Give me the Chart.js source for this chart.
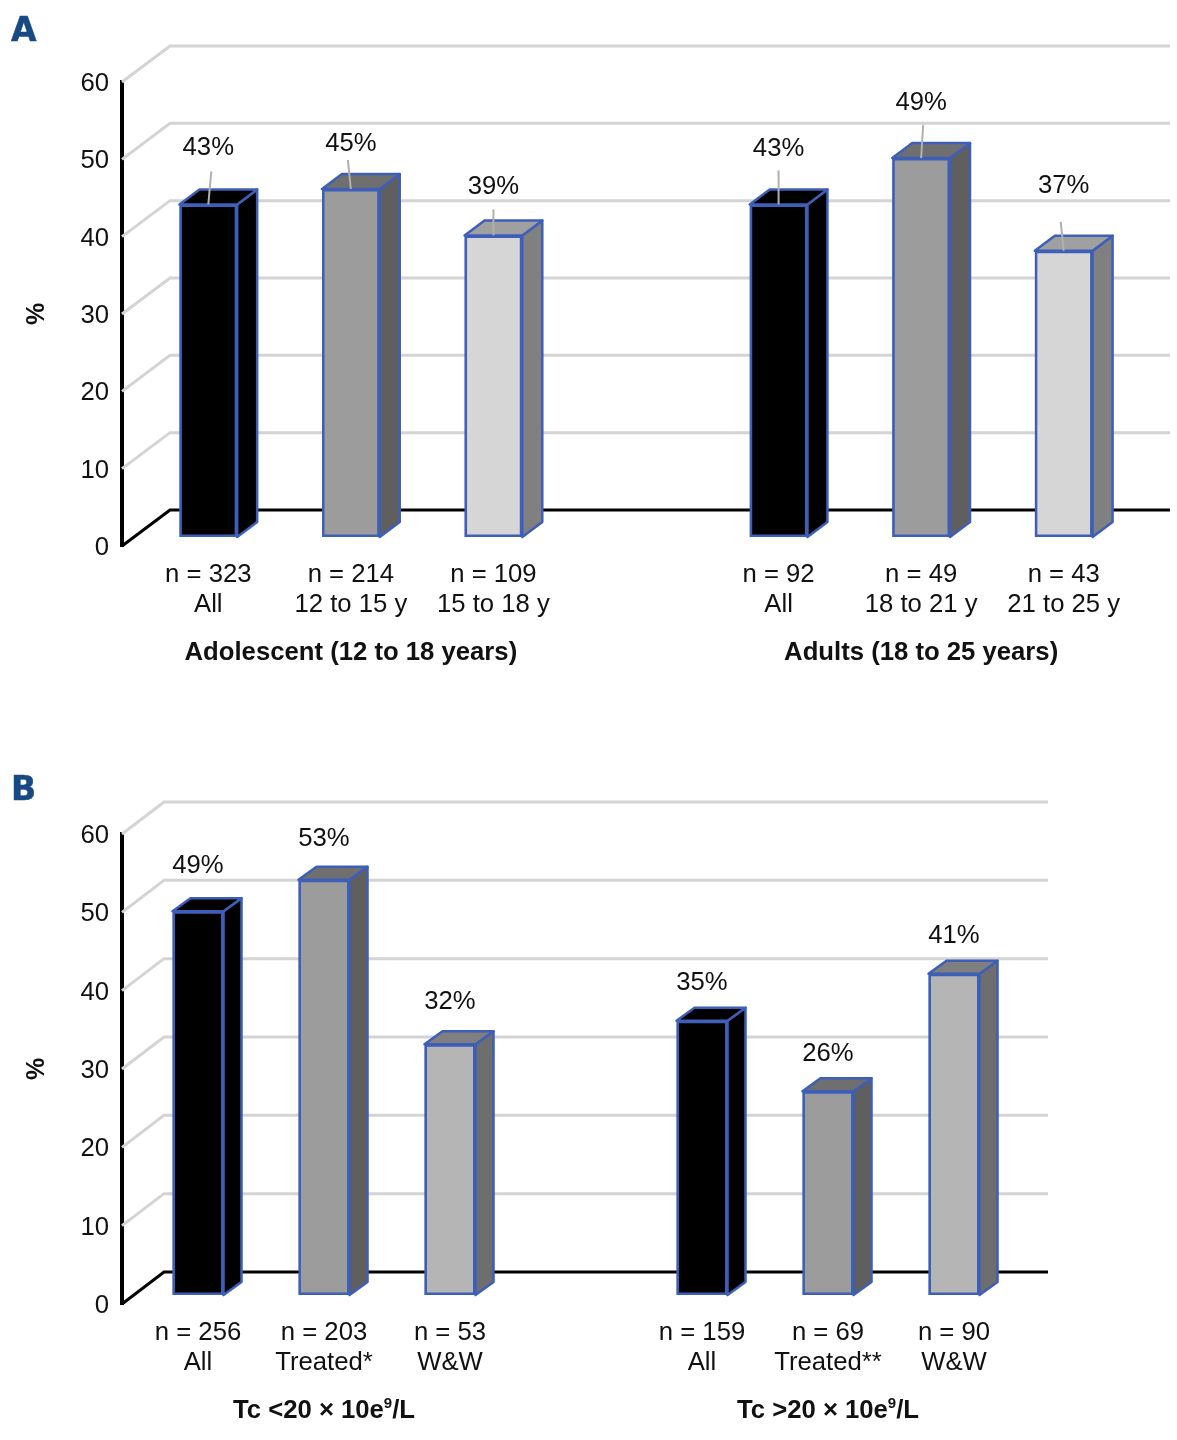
<!DOCTYPE html>
<html>
<head>
<meta charset="utf-8">
<script src="https://cdn.jsdelivr.net/npm/chart.js@4"></script>
<style>
  body { margin: 0; background: #fff; }
  #page { position: relative; width: 1177px; height: 1440px; overflow: hidden; }
  canvas { position: absolute; left: 0; }
  .panel { position: absolute; left: 11px; font: bold 33px "DejaVu Sans", sans-serif; color: #174a84; -webkit-text-stroke: 0.5px #174a84; }
</style>
</head>
<body>
<div id="page">
  <canvas id="chartA" width="1177" height="720" style="top:0"></canvas>
  <canvas id="chartB" width="1177" height="720" style="top:720px"></canvas>
  <div class="panel" style="top:10px">A</div>
  <div class="panel" style="top:769px">B</div>
</div>
<script>
// Panel A data (the empty slot is the gap between the two groups)
const categoriesA = [['n = 323', 'All'], ['n = 214', '12 to 15 y'], ['n = 109', '15 to 18 y'], '',
                     ['n = 92', 'All'], ['n = 49', '18 to 21 y'], ['n = 43', '21 to 25 y']];
const valuesA = [43, 45, 39, null, 43, 49, 37];
const groupsA = ['Adolescent (12 to 18 years)', 'Adults (18 to 25 years)'];

// Panel B data
const categoriesB = [['n = 256', 'All'], ['n = 203', 'Treated*'], ['n = 53', 'W&W'], '',
                     ['n = 159', 'All'], ['n = 69', 'Treated**'], ['n = 90', 'W&W']];
const valuesB = [49, 53, 32, null, 35, 26, 41];
const groupsB = ['Tc <20 × 10e⁹/L', 'Tc >20 × 10e⁹/L'];

const yMax = 60;
const yStep = 10;

const FONT = '"Liberation Sans", Arial, sans-serif';
const TEXT = '#111111';
const EDGE = '#3d5fb8';
const TEXT_SIZE = 25.7;

// face colours: front, top, side
const BLACK = ['#000000', '#000000', '#000000'];
const MID = ['#9c9c9c', '#6f6f6f', '#5f5f5f'];
const LIGHT_A = ['#d6d6d6', '#a0a0a0', '#808080'];
const LIGHT_B = ['#b5b5b5', '#7f7f7f', '#6e6e6e'];

function poly(ctx, pts, fill) {
  ctx.beginPath();
  pts.forEach((p, i) => i ? ctx.lineTo(p[0], p[1]) : ctx.moveTo(p[0], p[1]));
  ctx.closePath();
  ctx.fillStyle = fill;
  ctx.fill();
  ctx.lineWidth = 2.5;
  ctx.strokeStyle = EDGE;
  ctx.lineJoin = 'round';
  ctx.stroke();
}

// Centred caption; the ⁹ is set as a raised small digit
function drawCaption(ctx, text, cx, y) {
  const parts = text.split('⁹');
  ctx.font = 'bold ' + TEXT_SIZE + 'px ' + FONT;
  if (parts.length === 1) {
    ctx.fillText(text, cx, y);
    return;
  }
  const w0 = ctx.measureText(parts[0]).width, w2 = ctx.measureText(parts[1]).width;
  ctx.font = 'bold 15px ' + FONT;
  const w1 = ctx.measureText('9').width;
  const left = cx - (w0 + w1 + w2) / 2;
  ctx.textAlign = 'left';
  ctx.fillText('9', left + w0, y - 7);
  ctx.font = 'bold ' + TEXT_SIZE + 'px ' + FONT;
  ctx.fillText(parts[0], left, y);
  ctx.fillText(parts[1], left + w0 + w1, y);
  ctx.textAlign = 'center';
}

// Fake 3D: back wall grid, shifted bars with top and side faces, value labels
const fake3d = {
  id: 'fake3d',
  beforeDatasetsDraw(chart, args, o) {
    const ctx = chart.ctx, y = chart.scales.y, left = chart.chartArea.left;
    ctx.save();
    y.ticks.forEach(t => {
      const py = y.getPixelForValue(t.value);
      ctx.beginPath();
      ctx.moveTo(left, py);
      ctx.lineTo(left + o.wallX, py - o.wallY);
      ctx.lineTo(o.wallEnd, py - o.wallY);
      ctx.lineWidth = 3;
      ctx.strokeStyle = t.value === 0 ? '#000' : '#d4d4d4';
      ctx.stroke();
    });
    ctx.restore();
  },
  beforeDatasetDraw(chart, args, o) {
    const ctx = chart.ctx;
    ctx.save();
    ctx.translate(o.shiftX, -o.shiftY);
    args.meta.data.forEach((bar, i) => {
      if (chart.data.datasets[0].data[i] == null) return;
      const r = bar.x + bar.width / 2, l = bar.x - bar.width / 2;
      const face = o.faces[i];
      poly(ctx, [[r, bar.y], [r + o.depthX, bar.y - o.depthY], [r + o.depthX, bar.base - o.depthY], [r, bar.base]], face[2]);
      poly(ctx, [[l, bar.y], [l + o.depthX, bar.y - o.depthY], [r + o.depthX, bar.y - o.depthY], [r, bar.y]], face[1]);
      // solid backing so the black baseline does not bleed through the bar's soft edge
      ctx.fillStyle = EDGE;
      ctx.fillRect(l, bar.y, bar.width, bar.base - bar.y);
    });
  },
  afterDatasetDraw(chart) {
    chart.ctx.restore();
  },
  afterDatasetsDraw(chart, args, o) {
    const ctx = chart.ctx, meta = chart.getDatasetMeta(0);
    const values = chart.data.datasets[0].data;
    ctx.save();
    ctx.textAlign = 'center';
    ctx.textBaseline = 'middle';
    ctx.fillStyle = TEXT;
    meta.data.forEach((bar, i) => {
      if (values[i] == null) return;
      const x = bar.x + o.shiftX, top = bar.y - o.shiftY;
      if (o.leaders) {
        ctx.beginPath();
        ctx.moveTo(x, top);
        ctx.lineTo(x + o.leaders[i][0], top - o.leaders[i][1]);
        ctx.lineWidth = 2;
        ctx.strokeStyle = '#b0b0b0';
        ctx.stroke();
      }
      ctx.font = TEXT_SIZE + 'px ' + FONT;
      ctx.fillText(values[i] + '%', x, top - o.lift[i]);
    });
    // group captions under the category labels
    const x = chart.scales.x;
    o.groups.forEach((g, i) => {
      drawCaption(ctx, g, x.getPixelForValue(i * 4 + 1) + o.shiftX, o.groupY);
    });
    ctx.restore();
  }
};

function makeChart(id, categories, values, opts) {
  return new Chart(document.getElementById(id), {
    type: 'bar',
    data: {
      labels: categories,
      datasets: [{
        data: values,
        backgroundColor: opts.faces.map(f => f[0]),
        borderColor: EDGE,
        borderWidth: 2.5,
        borderSkipped: false,
        barPercentage: opts.barPct,
        categoryPercentage: 1
      }]
    },
    options: {
      responsive: false,
      animation: false,
      layout: { padding: { top: opts.top, right: opts.right, left: 0, bottom: 0 } },
      scales: {
        x: {
          grid: { display: false, drawTicks: false },
          border: { display: false },
          afterFit: s => { s.height = opts.axisHeight; },
          ticks: {
            autoSkip: false, maxRotation: 0, padding: 13, labelOffset: opts.fake.shiftX,
            color: TEXT, font: { family: FONT, size: TEXT_SIZE, lineHeight: 1.2 }
          }
        },
        y: {
          min: 0, max: yMax,
          grid: { display: false, drawTicks: false },
          border: { display: true, color: '#000', width: 4 },
          afterFit: s => { s.width = 122; },
          ticks: { stepSize: yStep, padding: 13, labelOffset: 2, color: TEXT, font: { family: FONT, size: TEXT_SIZE } },
          title: {
            display: true, text: '%', color: TEXT,
            font: { family: FONT, size: 25, weight: 'bold' },
            padding: { top: 22, bottom: 0 }
          }
        }
      },
      plugins: {
        legend: { display: false },
        tooltip: { enabled: false },
        fake3d: opts.fake
      }
    },
    plugins: [fake3d]
  });
}

makeChart('chartA', categoriesA, valuesA, {
  top: 82, right: 57, axisHeight: 174, barPct: 0.405,
  faces: [BLACK, MID, LIGHT_A, BLACK, BLACK, MID, LIGHT_A],
  fake: {
    faces: [BLACK, MID, LIGHT_A, BLACK, BLACK, MID, LIGHT_A],
    wallX: 48, wallY: 36, wallEnd: 1170,
    shiftX: 15, shiftY: 9, depthX: 20, depthY: 15,
    lift: [57, 45, 48, 0, 56, 55, 65],
    leaders: [[3, 33], [-3, 29], [0, 26], null, [0, 34], [2, 33], [-3, 29]],
    groups: groupsA, groupY: 653
  }
});

makeChart('chartB', categoriesB, valuesB, {
  top: 114, right: 173, axisHeight: 136, barPct: 0.405,
  faces: [BLACK, MID, LIGHT_B, BLACK, BLACK, MID, LIGHT_B],
  fake: {
    faces: [BLACK, MID, LIGHT_B, BLACK, BLACK, MID, LIGHT_B],
    wallX: 42, wallY: 32, wallEnd: 1048,
    shiftX: 13, shiftY: 9, depthX: 18, depthY: 13,
    lift: [45, 41, 42, 0, 38, 37, 38],
    leaders: null,
    groups: groupsB, groupY: 691
  }
});
</script>
</body>
</html>
